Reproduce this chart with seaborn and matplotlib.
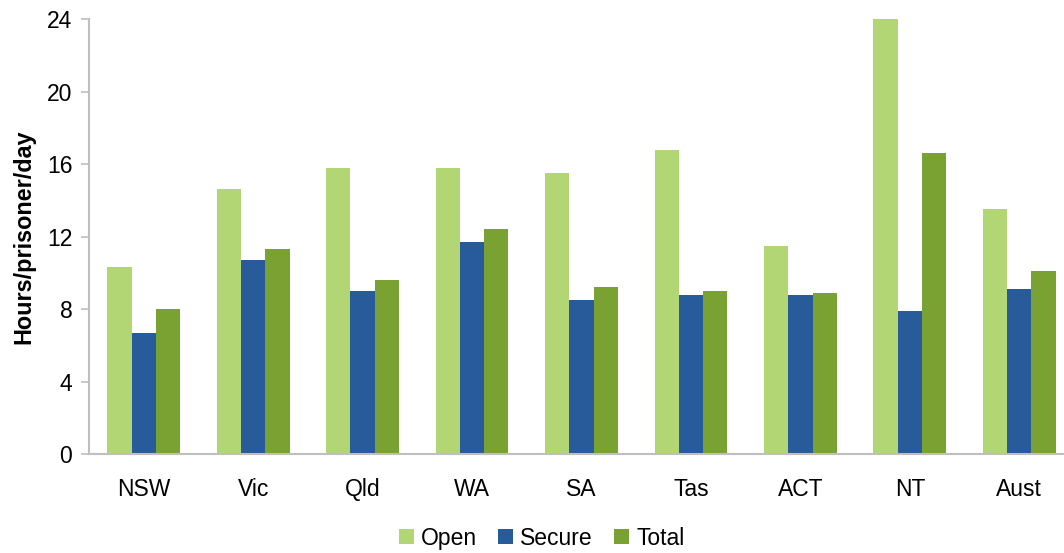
import matplotlib
matplotlib.use("Agg")
import matplotlib.pyplot as plt
import seaborn as sns
import pandas as pd

# Hours out of cells per prisoner per day, by jurisdiction
jurisdictions = ["NSW", "Vic", "Qld", "WA", "SA", "Tas", "ACT", "NT", "Aust"]
open_hours = [10.3, 14.6, 15.8, 15.8, 15.5, 16.8, 11.5, 24.0, 13.5]
secure_hours = [6.7, 10.7, 9.0, 11.7, 8.5, 8.8, 8.8, 7.9, 9.1]
total_hours = [8.0, 11.3, 9.6, 12.4, 9.2, 9.0, 8.9, 16.6, 10.1]
series_names = ["Open", "Secure", "Total"]
yticks = [0, 4, 8, 12, 16, 20, 24]

colors = ["#B3D675", "#275B9A", "#79A232"]

df = pd.DataFrame({
    "Jurisdiction": jurisdictions * 3,
    "Hours": open_hours + secure_hours + total_hours,
    "Series": [s for s in series_names for _ in jurisdictions],
})

sns.set_theme(style="white")
plt.rcParams["font.family"] = ["Liberation Sans", "DejaVu Sans"]
plt.rcParams["text.color"] = "#000000"

fig = plt.figure(figsize=(10.64, 5.53), dpi=100)
ax = fig.add_axes([0.0836, 0.179, 0.9258, 0.7866])

sns.barplot(data=df, x="Jurisdiction", y="Hours", hue="Series",
            order=jurisdictions, hue_order=series_names, palette=colors,
            width=0.665, gap=0, saturation=1, linewidth=0, ax=ax, legend=True)

ax.set_xlim(-0.5, len(jurisdictions) - 0.5)
ax.set_ylim(0, 24)
ax.set_yticks(yticks)
ax.set_yticklabels([str(v) for v in yticks], fontsize=16.5, color="#000000")
ax.tick_params(axis="y", direction="out", length=6, width=1.2, color="#BFBFBF",
               pad=6, left=True)
ax.tick_params(axis="x", length=0, pad=17, labelsize=16.5, labelcolor="#000000")
ax.set_xlabel("")
ax.set_ylabel("Hours/prisoner/day", fontsize=16.8, fontweight="bold",
              color="#000000", labelpad=8)

for side in ["top", "right"]:
    ax.spines[side].set_visible(False)
for side in ["left", "bottom"]:
    ax.spines[side].set_color("#BFBFBF")
    ax.spines[side].set_linewidth(1.5)

handles, labels = ax.get_legend_handles_labels()
ax.legend(handles, labels, loc="center", bbox_to_anchor=(0.509, 0.027),
          bbox_transform=fig.transFigure, ncol=3, frameon=False,
          fontsize=16.5, handlelength=0.65, handleheight=0.65,
          handletextpad=0.3, columnspacing=0.95)

fig.savefig("out.png", dpi=100)
